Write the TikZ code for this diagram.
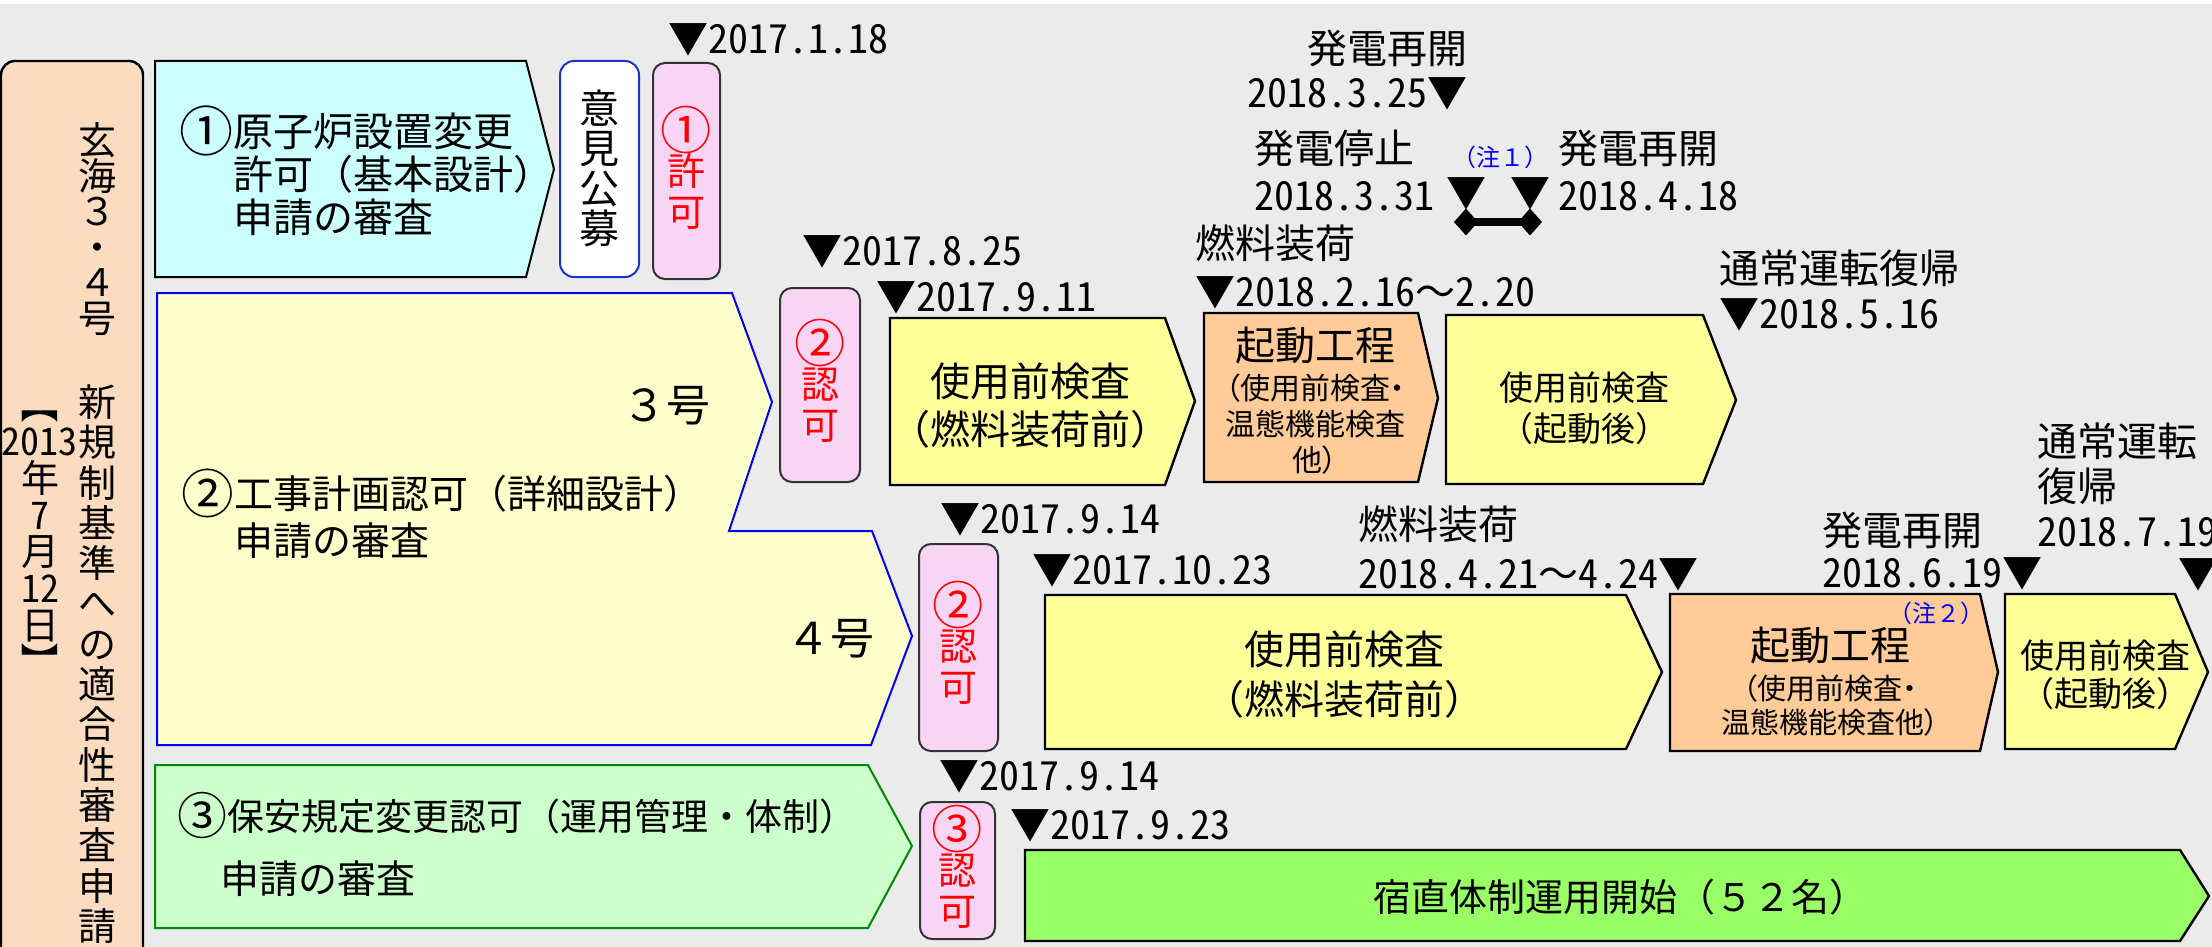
\documentclass[tikz,border=0pt]{standalone}
\usepackage{fontspec}
\setmainfont{Noto Sans CJK JP}
\newfontfamily\datefont{Noto Sans CJK JP}[RawFeature=+hwid]
\newfontfamily\propfont{Noto Sans CJK JP}[RawFeature=+palt]
\usepackage{graphicx}
\usepackage{tikz}
\usetikzlibrary{arrows.meta}
\definecolor{bggray}{HTML}{EBEBEB}
\definecolor{leftpeach}{HTML}{FCDCC1}
\definecolor{boxcyan}{HTML}{CCFFFF}
\definecolor{paleyellow}{HTML}{FFFFCC}
\definecolor{palegreen}{HTML}{CCFFCC}
\definecolor{boxpink}{HTML}{F8D5F5}
\definecolor{boxyellow}{HTML}{FFFF99}
\definecolor{boxorange}{HTML}{FFCC99}
\definecolor{bargreen}{HTML}{99FF66}
\definecolor{boxblue}{HTML}{2030C8}
\definecolor{boxgreen}{HTML}{008A00}
% circled numbers at the size of the kanji
\newcommand{\cnum}[1]{\smash{\raisebox{-0.13em}{\scalebox{1.35}{#1}}}\vphantom{国}}
% vertical brackets
\newcommand{\vbrak}[1]{\rotatebox[origin=c]{-90}{#1}}

\begin{document}
\begin{tikzpicture}[x=0.5pt, y=-0.5pt,
  every node/.style={inner sep=0pt},
  txt/.style 2 args={font=\fontsize{#1}{#2}\selectfont, align=center},
  dlbl/.style 2 args={font=\datefont\fontsize{#1}{#2}\selectfont, align=left},
  subtxt/.style 2 args={font=\propfont\fontsize{#1}{#2}\selectfont, align=center},
  outline/.style={draw=black, line width=1.2pt},
  pinkbox/.style={draw=black!80, line width=1pt, fill=boxpink, rounded corners=6pt},
  permtxt/.style={txt={19pt}{20.5pt}, text=red},
  notetxt/.style={txt={12pt}{13pt}, text=blue}]
% backdrop
\fill[bggray] (0,0) rectangle (2212,947);
\fill[white] (0,0) rectangle (2212,4);
\useasboundingbox (0,0) rectangle (2212,947);
\clip (0,0) rectangle (2212,947);

% application column
\draw[outline, fill=leftpeach, rounded corners=7pt] (1,61) rectangle (143,990);
\node[txt={19pt}{17.8pt}] (plant) at (97,229) {玄\\海\\３\\・\\４\\号};
\node[txt={19pt}{20.15pt}] (review) at (97,664)
  {新\\規\\制\\基\\準\\へ\\の\\適\\合\\性\\審\\査\\申\\請};
\node[txt={19pt}{18.4pt}] (filed) at (40,533)
  {\vbrak{【}\\{\datefont 2013}\\年\\{\datefont 7}\\月\\{\datefont 12}\\日\\\vbrak{】}};

% (1) basic design
\draw[outline, line width=1pt, fill=boxcyan]
  (155,61) -- (526,61) -- (554,169) -- (526,277) -- (155,277) -- cycle;
\node[txt={20pt}{21.5pt}, align=left, anchor=west] (app1) at (179,174)
  {\cnum{①}原子炉設置変更\\\phantom{\cnum{①}}許可（基本設計）\\\phantom{\cnum{①}}申請の審査};
\draw[draw=boxblue, line width=1pt, fill=white, rounded corners=7pt] (560,61) rectangle (639,277);
\node[txt={20pt}{20pt}] (opinion) at (599,168) {意\\見\\公\\募};
\draw[pinkbox] (653,63) rectangle (720,279);
\node[permtxt] (perm1) at (686,172) {\cnum{①}\\許\\可};

% (2) detailed design, units 3 and 4
\draw[draw=blue, line width=1pt, fill=paleyellow]
  (157,293) -- (732,293) -- (772,402) -- (729,531) -- (872,531)
  -- (912,636) -- (871,745) -- (157,745) -- cycle;
\node[txt={22pt}{24pt}, anchor=east] (unit3) at (711,406) {３号};
\node[txt={22pt}{24pt}, anchor=east] (unit4) at (875,639) {４号};
\node[txt={19.5pt}{23.5pt}, align=left, anchor=west] (app2) at (181,517)
  {\cnum{②}工事計画認可（詳細設計）\\\phantom{\cnum{②}}申請の審査};
\draw[pinkbox] (780,288) rectangle (860,482);
\node[permtxt] (perm2a) at (820,385) {\cnum{②}\\認\\可};
\draw[pinkbox] (919,544) rectangle (998,751);
\node[permtxt] (perm2b) at (958,647) {\cnum{②}\\認\\可};

% (3) safety rules
\draw[draw=boxgreen, line width=1pt, fill=palegreen]
  (155,765) -- (868,765) -- (912,846) -- (868,928) -- (155,928) -- cycle;
\node[txt={18.5pt}{20pt}, anchor=west] (app3) at (177,816) {\cnum{③}保安規定変更認可（運用管理・体制）};
\node[txt={19.5pt}{20pt}, anchor=west] (app3b) at (220,879) {申請の審査};
\draw[pinkbox] (920,802) rectangle (995,939);
\node[permtxt] (perm3) at (957,871) {\cnum{③}\\認\\可};

% unit 3 steps
\draw[outline, fill=boxyellow]
  (890,318) -- (1165,318) -- (1195,401) -- (1165,485) -- (890,485) -- cycle;
\node[txt={20pt}{24pt}] (insp3) at (1030,406) {使用前検査\\（燃料装荷前）};
\draw[outline, fill=boxorange]
  (1204,313) -- (1418,313) -- (1438,398) -- (1418,482) -- (1204,482) -- cycle;
\node[txt={20pt}{22pt}] (start3) at (1315,345) {起動工程};
\node[subtxt={15pt}{18pt}] (start3sub) at (1315,424) {（使用前検査・\\温態機能検査\\他）};
\draw[outline, fill=boxyellow]
  (1446,315) -- (1703,315) -- (1736,400) -- (1703,484) -- (1446,484) -- cycle;
\node[txt={17pt}{20.5pt}] (post3) at (1584,408) {使用前検査\\（起動後）};

% unit 4 steps
\draw[outline, fill=boxyellow]
  (1045,595) -- (1626,595) -- (1662,672) -- (1626,749) -- (1045,749) -- cycle;
\node[txt={20pt}{25pt}] (insp4) at (1344,675) {使用前検査\\（燃料装荷前）};
\draw[outline, fill=boxorange]
  (1670,594) -- (1980,594) -- (1998,672) -- (1980,751) -- (1670,751) -- cycle;
\node[txt={20pt}{22pt}] (start4) at (1830,645) {起動工程};
\node[subtxt={14.5pt}{17pt}] (start4sub) at (1830,705) {（使用前検査・\\温態機能検査他）};
\node[notetxt] (note2) at (1936,613) {（注２）};
\draw[outline, fill=boxyellow]
  (2005,594) -- (2175,594) -- (2208,672) -- (2175,749) -- (2005,749) -- cycle;
\node[txt={17pt}{19pt}] (post4) at (2105,675) {使用前検査\\（起動後）};

% night duty
\draw[outline, fill=bargreen]
  (1025,850) -- (2180,850) -- (2209,896) -- (2180,941) -- (1025,941) -- cycle;
\node[txt={19pt}{20pt}] (duty) at (1620,897) {宿直体制運用開始（５２名）};

% dates
\scope[every node/.append style={dlbl={20pt}{22pt}}]
\node[anchor=west] (d0118) at (668,40) {▼2017.1.18};
\node[anchor=east, align=right] (run325) at (1468,70) {発電再開\\2018.3.25▼};
\node[anchor=east, align=right, dlbl={20pt}{23.5pt}] (stop331) at (1435,170) {発電停止\\2018.3.31};
\node (tri331) at (1466,194) {▼};
\node (tri418) at (1530,194) {▼};
\node[anchor=west, dlbl={20pt}{23.5pt}] (run418) at (1558,170) {発電再開\\2018.4.18};
\node[anchor=west, dlbl={20pt}{24pt}] (fuel3) at (1195,267) {燃料装荷\\▼2018.2.16{\rmfamily ～}2.20};
\node[anchor=west] (d0825) at (802,252) {▼2017.8.25};
\node[anchor=west] (d0911) at (876,298) {▼2017.9.11};
\node[anchor=west, dlbl={20pt}{22.5pt}] (norm3) at (1719,290) {通常運転復帰\\▼2018.5.16};
\node[anchor=west] (d0914a) at (940,520) {▼2017.9.14};
\node[anchor=west] (d1023) at (1032,571) {▼2017.10.23};
\node[anchor=east, align=right, dlbl={20pt}{24.5pt}] (fuel4) at (1699,548) {燃料装荷\\2018.4.21{\rmfamily ～}4.24▼};
\node[anchor=west, dlbl={20pt}{21pt}] (run619) at (1822,551) {発電再開\\2018.6.19▼};
\node[anchor=west, dlbl={20pt}{22.5pt}] (norm4) at (2037,485) {通常運転\\復帰\\2018.7.19};
\node (tri719) at (2198,575) {▼};
\node[anchor=west] (d0914b) at (939,777) {▼2017.9.14};
\node[anchor=west] (d0923) at (1010,826) {▼2017.9.23};
\endscope
\node[notetxt] (note1) at (1500,157) {（注１）};

% stop period
\coordinate (gapL) at (1454,222);
\coordinate (gapR) at (1542,222);
\draw[line width=4pt, {Diamond[length=12pt,width=13.5pt]}-{Diamond[length=12pt,width=13.5pt]}] (gapL) -- (gapR);
\end{tikzpicture}
\end{document}
